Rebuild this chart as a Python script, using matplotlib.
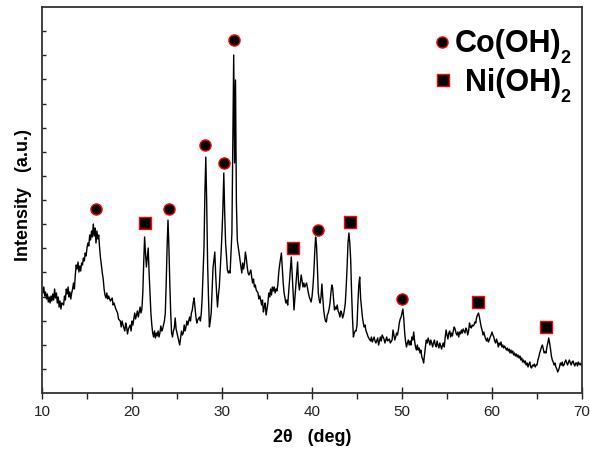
import matplotlib
matplotlib.use("Agg")
import matplotlib.pyplot as plt
import numpy as np
from matplotlib.ticker import MultipleLocator, FixedLocator, NullFormatter
from matplotlib.transforms import offset_copy

plt.rcParams['font.family'] = ['Liberation Sans', 'DejaVu Sans']

# ---------------- data ----------------
two_theta = [
    10.0,10.1,10.2,10.3,10.4,10.5,10.6,10.7,10.8,10.9,11.0,11.1,11.2,11.3,11.4,11.5,11.6,11.7,11.8,11.9,
    12.0,12.1,12.2,12.4,12.5,12.6,12.7,12.8,12.9,13.0,13.1,13.2,13.3,13.4,13.5,13.6,13.7,13.8,13.9,
    14.0,14.1,14.2,14.3,14.4,14.5,14.6,14.7,14.8,14.9,15.0,15.1,15.2,15.3,15.4,15.5,15.6,15.7,15.8,15.9,
    16.0,16.1,16.2,16.3,16.4,16.5,16.6,16.7,16.8,16.9,17.0,17.1,17.2,17.3,17.4,17.6,17.8,17.9,18.0,18.2,
    18.4,18.5,18.7,18.8,18.9,19.0,19.2,19.3,19.4,19.5,19.6,19.8,19.9,
    20.0,20.1,20.3,20.4,20.6,20.7,20.9,21.0,21.1,21.2,21.3,21.4,21.5,21.6,21.7,21.8,21.9,
    22.0,22.1,22.2,22.3,22.4,22.5,22.6,22.7,22.8,22.9,23.0,23.1,23.2,23.3,23.4,23.6,23.7,23.8,23.9,
    24.0,24.1,24.2,24.3,24.4,24.5,24.6,24.7,24.8,24.9,25.0,25.1,25.3,25.4,25.5,25.6,25.7,25.8,25.9,
    26.0,26.1,26.2,26.4,26.5,26.6,26.7,26.8,26.9,27.0,27.1,27.2,27.3,27.5,27.6,27.7,27.8,27.9,
    28.0,28.1,28.2,28.3,28.4,28.5,28.6,28.7,28.8,28.9,29.0,29.2,29.3,29.4,29.5,29.6,29.7,29.8,29.9,
    30.0,30.1,30.2,30.3,30.4,30.5,30.6,30.7,30.8,30.9,31.0,31.1,31.2,31.3,31.4,31.5,31.6,31.7,31.8,31.9,
    32.0,32.2,32.3,32.4,32.5,32.6,32.7,32.8,32.9,33.0,33.2,33.3,33.4,33.5,33.6,33.7,33.8,
    34.0,34.1,34.2,34.3,34.4,34.5,34.6,34.7,34.8,34.9,35.0,35.1,35.2,35.3,35.4,35.5,35.6,35.7,35.8,35.9,
    36.0,36.1,36.2,36.3,36.4,36.6,36.7,36.8,36.9,37.0,37.1,37.2,37.3,37.4,37.5,37.6,37.7,37.8,37.9,
    38.0,38.1,38.2,38.4,38.5,38.6,38.7,38.8,38.9,39.0,39.1,39.2,39.4,39.5,39.6,39.7,39.9,
    40.0,40.1,40.2,40.3,40.4,40.5,40.6,40.7,40.8,40.9,41.0,41.1,41.2,41.3,41.4,41.5,41.6,41.7,41.8,41.9,
    42.0,42.1,42.2,42.3,42.4,42.5,42.6,42.7,42.8,42.9,43.0,43.1,43.2,43.3,43.4,43.5,43.6,43.7,43.8,43.9,
    44.0,44.1,44.2,44.3,44.4,44.5,44.6,44.7,44.8,44.9,45.0,45.1,45.2,45.3,45.4,45.5,45.6,45.7,45.8,45.9,
    46.0,46.1,46.2,46.3,46.5,46.6,46.7,46.9,47.0,47.1,47.3,47.4,47.6,47.7,47.8,
    48.0,48.1,48.3,48.4,48.6,48.7,48.9,49.0,49.1,49.2,49.3,49.4,49.5,49.6,49.7,49.8,49.9,
    50.0,50.1,50.2,50.3,50.4,50.5,50.6,50.7,50.8,50.9,51.0,51.1,51.2,51.3,51.4,51.5,51.6,51.7,51.8,51.9,
    52.0,52.1,52.2,52.3,52.4,52.5,52.6,52.7,52.8,52.9,53.0,53.1,53.2,53.3,53.4,53.5,53.6,53.7,53.8,53.9,
    54.0,54.1,54.2,54.3,54.4,54.5,54.6,54.7,54.8,54.9,55.0,55.1,55.2,55.3,55.4,55.5,55.6,55.7,55.8,55.9,
    56.0,56.1,56.2,56.3,56.4,56.5,56.6,56.7,56.8,56.9,57.0,57.1,57.2,57.3,57.4,57.5,57.6,57.7,57.8,57.9,
    58.0,58.1,58.2,58.3,58.4,58.5,58.6,58.7,58.8,58.9,59.0,59.1,59.2,59.3,59.4,59.5,59.6,59.7,59.8,59.9,
    60.0,60.1,60.2,60.3,60.4,60.5,60.6,60.7,60.8,60.9,61.0,61.1,61.2,61.3,61.4,61.5,61.6,61.7,61.8,61.9,
    62.0,62.1,62.2,62.3,62.4,62.5,62.6,62.7,62.8,62.9,63.0,63.1,63.2,63.3,63.4,63.5,63.6,63.7,63.8,63.9,
    64.0,64.1,64.2,64.3,64.4,64.5,64.6,64.7,64.8,64.9,65.0,65.1,65.2,65.3,65.4,65.5,65.6,65.7,65.8,65.9,
    66.0,66.1,66.2,66.3,66.4,66.5,66.6,66.7,66.8,66.9,67.0,67.1,67.2,67.3,67.4,67.5,67.6,67.7,67.8,67.9,
    68.0,68.1,68.2,68.3,68.4,68.5,68.6,68.7,68.8,68.9,69.0,69.1,69.2,69.3,69.4,69.5,69.6,69.7,69.8,69.9,
    70.0,
]
intensity = [
    104,100,106,97,101,94,99,91,96,90,97,92,99,93,104,95,100,90,96,86,
    92,84,90,88,97,93,104,99,106,96,101,94,100,104,110,104,118,128,124,
    131,121,127,122,130,128,135,132,140,137,145,150,147,158,153,162,156,169,157,165,
    150,162,154,158,145,135,128,120,114,104,98,95,100,94,97,92,95,88,90,84,
    80,74,72,66,72,68,62,70,66,59,64,68,62,
    72,68,80,74,82,76,86,80,84,100,130,156,140,126,135,145,120,
    100,80,68,60,56,62,55,60,57,62,56,60,67,62,64,72,80,110,146,
    173,146,110,80,60,56,62,65,75,64,60,56,48,55,62,58,60,68,62,
    66,72,68,76,72,80,83,90,95,85,76,70,73,76,72,80,96,120,
    146,200,236,190,130,95,66,72,80,103,125,141,118,100,86,98,106,123,140,
    160,185,220,180,150,136,123,120,122,120,140,160,250,338,230,313,190,153,146,140,
    133,120,130,124,130,141,135,126,120,118,123,116,110,114,106,108,103,
    100,94,97,93,88,93,81,86,90,78,84,90,100,96,104,98,106,102,106,100,
    104,102,108,120,128,140,125,110,100,95,90,93,88,100,113,125,136,118,100,
    83,95,108,131,110,103,110,118,112,106,110,106,110,105,100,96,91,
    96,106,120,140,156,148,126,100,93,90,96,109,95,83,76,72,71,78,80,84,
    90,100,108,105,93,83,86,84,88,82,80,76,82,80,75,78,83,90,106,126,
    150,160,150,133,100,75,56,60,62,62,68,90,108,116,95,86,76,70,66,68,
    62,60,57,55,52,56,51,56,52,50,55,48,56,52,58,
    54,50,56,52,54,50,53,63,58,53,56,60,58,63,70,74,76,
    80,84,74,60,51,46,50,53,48,52,48,56,53,61,52,46,43,48,43,45,
    40,43,36,34,30,38,46,53,50,55,52,48,53,50,46,50,53,48,46,52,
    48,45,50,47,44,48,50,46,56,63,58,54,60,62,56,60,57,62,66,64,
    60,58,61,56,61,59,63,60,64,62,60,65,63,58,62,70,66,65,68,67,
    68,71,70,76,78,80,76,71,66,63,58,61,57,54,52,55,51,53,56,58,
    61,58,56,52,50,54,51,46,50,48,51,46,48,45,47,45,43,45,42,44,
    40,43,40,42,38,40,37,39,36,38,35,37,33,35,31,33,30,32,28,30,
    26,29,31,26,25,28,27,29,26,28,28,33,36,40,43,46,48,44,40,41,
    40,46,50,55,50,44,37,33,31,28,30,26,24,21,23,26,30,28,31,27,
    28,31,33,30,28,31,33,30,28,31,32,29,27,30,30,27,31,29,28,30,
    27,
]
assert len(two_theta) == len(intensity)

co_peak_theta = [16.0, 24.1, 28.1, 30.2, 31.3, 40.7, 50.0]
co_peak_marker = [184, 184, 248, 230, 353, 163, 94]
ni_peak_theta = [21.4, 37.9, 44.2, 58.4, 66.0]
ni_peak_marker = [170, 145, 171, 91, 66]

x_ticks = [10, 20, 30, 40, 50, 60, 70]
x_tick_labels = ['10', '20', '30', '40', '50', '60', '70']
legend_names = ['Co(OH)', 'Ni(OH)']
legend_subscripts = ['2', '2']

# ---------------- figure ----------------
fig = plt.figure(figsize=(5.9, 4.58), dpi=100)
ax = fig.add_axes([42/590, 65/458, 540/590, 386/458])

ax.plot(two_theta, intensity, color='black', lw=1.0)
ax.plot(co_peak_theta, co_peak_marker, 'o', ms=8, mfc='black', mec='red', mew=1.0, ls='none')
ax.plot(ni_peak_theta, ni_peak_marker, 's', ms=8, mfc='black', mec='red', mew=1.0, ls='none')

ax.set_xlim(10, 70)
ax.set_ylim(0, 386)
ax.set_xticks(x_ticks)
ax.set_xticklabels(x_tick_labels, fontsize=11)
ax.xaxis.set_minor_locator(MultipleLocator(5))
ax.yaxis.set_major_locator(FixedLocator([k * 386 / 16 for k in range(1, 16)]))
ax.yaxis.set_major_formatter(NullFormatter())
ax.tick_params(axis='x', which='major', direction='inout', length=9, width=1.0, pad=4, colors='#222222', labelcolor='#222222')
ax.tick_params(axis='x', which='minor', direction='out', length=4, width=1.0, colors='#222222')
ax.tick_params(axis='y', which='major', direction='in', length=3, width=1.0, colors='#222222')
for s in ax.spines.values():
    s.set_linewidth(1.3)
    s.set_color('#333333')

ax.set_xlabel('2θ   (deg)', fontsize=13, fontweight='bold', labelpad=7)
ax.set_ylabel('Intensity   (a.u.)', fontsize=13, fontweight='bold')
ax.yaxis.set_label_coords(-0.019, 0.513)

# legend drawn manually
ax.plot([0.741], [0.909], 'o', ms=8, mfc='black', mec='red', mew=1.0, transform=ax.transAxes, clip_on=False)
ax.plot([0.743], [0.811], 's', ms=8, mfc='black', mec='red', mew=1.0, transform=ax.transAxes, clip_on=False)
t1 = ax.text(0.765, 0.883, legend_names[0], transform=ax.transAxes, fontsize=22, fontweight='bold', va='baseline', ha='left')
t2 = ax.text(0.783, 0.782, legend_names[1], transform=ax.transAxes, fontsize=22, fontweight='bold', va='baseline', ha='left')
fig.canvas.draw()
r = fig.canvas.get_renderer()
for t, sub, yb in [(t1, legend_subscripts[0], 0.883), (t2, legend_subscripts[1], 0.782)]:
    bb = t.get_window_extent(r)
    xa = ax.transAxes.inverted().transform((bb.x1 - 1, 0))[0]
    ax.text(xa, yb, sub, transform=offset_copy(ax.transAxes, fig=fig, x=0, y=1.5, units='points'),
            fontsize=13, fontweight='bold', va='top', ha='left')

fig.savefig('out.png', dpi=100)
